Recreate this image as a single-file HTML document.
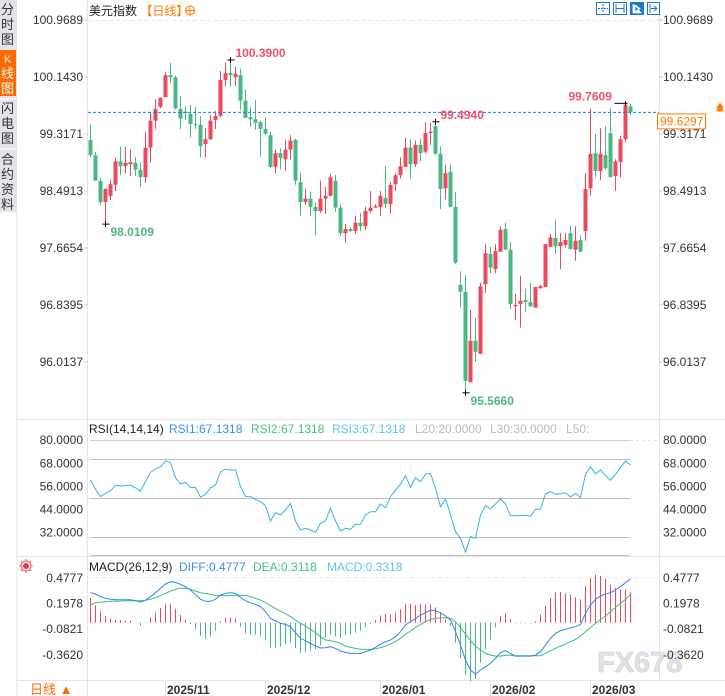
<!DOCTYPE html>
<html><head><meta charset="utf-8">
<style>
html,body{margin:0;padding:0;background:#fff;}
svg{display:block;font-family:"Liberation Sans","Noto Sans CJK SC",sans-serif;}
</style></head>
<body>
<svg id="chart" width="725" height="696" viewBox="0 0 725 696" xmlns="http://www.w3.org/2000/svg">
  <rect x="0" y="0" width="725" height="696" fill="#fff"/>
  <!-- sidebar -->
  <g>
    <rect x="0" y="0" width="17" height="212" fill="#e4e4e8"/>
    <line x1="17" y1="212" x2="17" y2="696" stroke="#e6e6ea"/>
    <g font-size="13" fill="#333">
      <text x="1" y="14">分</text><text x="1" y="29">时</text><text x="1" y="44">图</text>
    </g>
    <g>
      <rect x="0" y="50" width="16" height="46" fill="#ff6a00"/>
      <text x="4" y="63" font-size="11" fill="#fff">K</text>
      <text x="1" y="78" font-size="13" fill="#fff">线</text>
      <text x="1" y="93" font-size="13" fill="#fff">图</text>
    </g>
    <line x1="0" y1="99" x2="17" y2="99" stroke="#fff"/>
    <g font-size="13" fill="#333">
      <text x="1" y="113">闪</text><text x="1" y="128">电</text><text x="1" y="143">图</text>
    </g>
    <line x1="0" y1="149" x2="17" y2="149" stroke="#fff"/>
    <g font-size="13" fill="#333">
      <text x="1" y="164">合</text><text x="1" y="179">约</text><text x="1" y="194">资</text><text x="1" y="209">料</text>
    </g>
  </g>
  <!-- axis borders -->
  <line x1="87.5" y1="0" x2="87.5" y2="696" stroke="#e6e6ea"/>
  <line x1="659.5" y1="0" x2="659.5" y2="680" stroke="#e6e6ea"/>
  <line x1="17" y1="419.5" x2="725" y2="419.5" stroke="#e6e6ea"/>
  <line x1="17" y1="556.5" x2="725" y2="556.5" stroke="#e6e6ea"/>
  <line x1="17" y1="680.5" x2="725" y2="680.5" stroke="#e6e6ea"/>

  <!-- title -->
  <text x="89" y="15" font-size="12" fill="#222">美元指数 <tspan fill="#ff7a00">【日线】</tspan></text>
  <g>
    <circle cx="190" cy="10.5" r="4.5" fill="none" stroke="#ff7a00"/>
    <line x1="185.5" y1="10.5" x2="194.5" y2="10.5" stroke="#ff7a00"/>
    <line x1="190" y1="6" x2="190" y2="15" stroke="#ff7a00"/>
  </g>
  <!-- toolbar icons -->
  <g>
    <g><rect x="596.5" y="2.5" width="13" height="12" fill="#fff" stroke="#1b76d2"/><path d="M603 4v8M598 8.5h10" stroke="#1b76d2" stroke-dasharray="2 1"/></g>
    <g><rect x="613.5" y="2.5" width="13" height="12" fill="#fff" stroke="#1b76d2"/><path d="M616 4v9M624 4v9M616 8.5h8" stroke="#1b76d2"/></g>
    <g><rect x="630.5" y="2.5" width="13" height="12" fill="#1b76d2" stroke="#1b76d2"/><path d="M633 4v9h9M635 5l5 3.5-5 3.5z" fill="#fff" stroke="#fff" stroke-width="0.8"/></g>
    <g><rect x="647.5" y="2.5" width="12" height="12" fill="#fff" stroke="#1b76d2"/><path d="M650 4v9M651 8.5h5M654 6l3 2.5-3 2.5" stroke="#1b76d2" fill="none"/></g>
  </g>

  <g id="main"></g>
  <g id="rsi"></g>
  <g id="macd"></g>

  <!-- headers -->
  <text x="89" y="433" font-size="12"><tspan fill="#222">RSI(14,14,14)</tspan><tspan x="169" fill="#3a8fe8">RSI1:67.1318</tspan><tspan x="251" fill="#46c283">RSI2:67.1318</tspan><tspan x="332" fill="#62c3ef">RSI3:67.1318</tspan><tspan x="415" fill="#bbb">L20:20.0000</tspan><tspan x="490" fill="#bbb">L30:30.0000</tspan><tspan x="566" fill="#bbb">L50:</tspan></text>
  <text x="89" y="571" font-size="12"><tspan fill="#222">MACD(26,12,9)</tspan><tspan x="179" fill="#3a8fe8">DIFF:0.4777</tspan><tspan x="253" fill="#46c283">DEA:0.3118</tspan><tspan x="327" fill="#62c3ef">MACD:0.3318</tspan></text>
  <g>
    <circle cx="26" cy="566" r="3" fill="#e33"/>
    <circle cx="26" cy="566" r="5" fill="none" stroke="#e33" stroke-width="0.8"/>
    <path d="M19 566h2M31 566h2M26 559v2M26 571v2M21 561l1.5 1.5M31 561l-1.5 1.5M21 571l1.5-1.5M31 571l-1.5-1.5" stroke="#e33" stroke-width="0.8"/>
  </g>

  <!-- bottom period -->
  <g>
    <text x="30" y="694" font-size="13" fill="#ff6a00">日线 ▲</text>
  </g>
  <g id="xaxis"></g>

  <text x="597" y="672" font-size="29" fill="#dfe2ea" stroke="#c9ccd6" stroke-width="0.6" font-weight="bold">FX678</text>
</svg>
<script>
// ===== data =====
const opens = [99.23,99.01,98.64,98.33,98.42,98.58,98.92,98.85,98.88,98.90,98.80,98.69,99.12,99.51,99.71,99.85,100.17,100.14,99.68,99.64,99.61,99.46,99.45,99.17,99.24,99.52,99.58,100.10,100.20,100.14,100.17,99.80,99.56,99.53,99.49,99.39,99.30,98.84,99.04,98.95,99.09,99.23,98.62,98.33,98.38,98.26,98.20,98.38,98.42,98.64,98.25,97.88,97.94,97.91,98.03,97.98,98.20,98.25,98.26,98.39,98.30,98.59,98.72,98.84,99.12,98.88,99.16,99.06,99.33,99.43,99.03,98.53,98.77,98.26,97.13,97.03,95.72,96.32,96.13,97.14,97.58,97.36,97.61,97.94,97.64,96.82,96.85,96.91,96.88,96.80,97.08,97.10,97.68,97.81,97.69,97.71,97.88,97.64,97.78,97.91,98.53,99.04,98.78,99.01,99.33,98.71,98.91,99.24,99.72];
const highs = [99.46,99.06,98.68,98.53,98.65,98.98,99.13,99.13,99.09,98.98,98.91,99.35,99.64,99.82,99.85,100.22,100.35,100.16,99.87,99.72,99.74,99.71,99.58,99.40,99.59,99.65,100.23,100.35,100.39,100.29,100.26,99.96,99.71,99.81,99.51,99.56,99.35,99.09,99.11,99.23,99.30,99.25,98.75,98.52,98.48,98.32,98.64,98.55,98.74,98.72,98.30,98.01,97.97,98.13,98.17,98.26,98.49,98.30,98.49,98.85,98.62,98.75,98.98,99.26,99.25,99.22,99.25,99.49,99.48,99.494,99.14,98.87,98.88,98.48,97.33,97.27,96.77,96.65,97.16,97.72,97.68,97.72,97.98,98.03,97.75,97.00,97.26,97.07,97.16,97.10,97.13,97.72,97.87,98.07,97.88,97.88,97.99,97.98,97.84,98.75,99.68,99.32,99.40,99.43,99.69,98.95,99.29,99.7609,99.75];
const lows = [98.98,98.64,98.29,98.0109,98.36,98.49,98.72,98.75,98.71,98.71,98.55,98.61,98.90,99.39,99.69,99.85,100.06,99.67,99.39,99.52,99.27,99.39,98.98,98.98,99.23,99.39,99.56,100.01,100.00,100.01,99.67,99.55,99.42,99.38,98.99,99.30,98.82,98.75,98.80,98.78,98.95,98.58,98.13,98.29,98.13,97.85,98.17,98.16,98.41,98.19,97.84,97.74,97.90,97.87,97.91,97.93,98.17,98.25,98.13,98.25,98.16,98.49,98.67,98.84,98.67,98.84,98.92,99.04,99.16,99.01,98.23,98.37,98.26,97.43,96.80,95.566,95.72,96.01,96.13,97.01,97.30,97.30,97.61,97.64,96.78,96.62,96.51,96.74,96.81,96.80,97.08,97.10,97.68,97.58,97.36,97.67,97.64,97.48,97.61,97.77,98.43,98.69,98.65,98.80,98.69,98.49,98.69,99.20,99.59];
const closes = [99.01,98.64,98.33,98.52,98.59,98.92,98.85,98.90,98.91,98.80,98.69,99.12,99.51,99.68,99.84,100.17,100.14,99.69,99.54,99.62,99.46,99.45,99.14,99.24,99.51,99.58,100.10,100.20,100.17,100.19,99.80,99.55,99.53,99.48,99.39,99.32,98.84,99.04,98.97,99.09,99.22,98.64,98.33,98.38,98.26,98.20,98.38,98.42,98.69,98.25,97.88,97.94,97.91,98.03,97.98,98.20,98.25,98.27,98.42,98.30,98.58,98.72,98.85,99.12,98.88,99.16,99.04,99.33,99.35,99.03,98.52,98.75,98.26,97.45,97.03,95.74,96.32,96.16,97.11,97.59,97.38,97.62,97.93,97.64,96.85,96.84,96.90,96.88,96.82,97.10,97.11,97.72,97.82,97.69,97.75,97.78,97.65,97.77,97.61,98.52,99.03,98.78,99.03,98.82,98.69,98.92,99.24,99.74,99.6297];
const rsiValues = [59.3,54.5,50.7,52.4,53.6,56.7,56.2,56.4,56.6,55.3,53.6,58.5,63.3,65.0,66.2,69.3,68.3,60.5,57.3,58.1,55.5,55.5,50.4,51.9,55.3,56.7,63.6,65.0,64.5,64.5,55.9,50.7,50.7,49.3,48.1,46.0,38.1,42.4,41.2,43.8,47.2,38.1,33.4,34.3,33.4,32.2,36.9,38.1,44.7,38.1,32.9,34.3,33.8,36.5,36.3,41.2,42.9,42.9,46.9,45.0,50.7,54.1,57.1,61.6,55.5,60.5,58.5,62.3,62.8,55.0,45.5,49.5,41.2,32.5,29.1,21.9,30.0,29.1,41.2,46.0,44.3,46.9,49.5,46.9,40.8,40.8,41.0,41.0,40.6,44.1,44.3,52.1,53.3,51.9,52.2,52.8,50.5,52.4,50.2,62.3,66.2,62.5,64.5,61.6,59.3,62.3,65.7,69.2,67.13];
const diffValues = [0.327,0.313,0.284,0.265,0.255,0.251,0.251,0.251,0.251,0.240,0.225,0.247,0.284,0.327,0.375,0.422,0.447,0.440,0.418,0.393,0.356,0.309,0.255,0.233,0.233,0.255,0.302,0.320,0.327,0.320,0.276,0.240,0.218,0.200,0.175,0.120,0.047,0.018,-0.007,-0.018,-0.044,-0.109,-0.171,-0.196,-0.225,-0.255,-0.276,-0.273,-0.262,-0.280,-0.309,-0.324,-0.335,-0.335,-0.335,-0.316,-0.298,-0.269,-0.233,-0.207,-0.189,-0.153,-0.098,-0.025,0.011,0.044,0.084,0.109,0.138,0.131,0.109,0.073,0.029,-0.098,-0.244,-0.407,-0.516,-0.560,-0.516,-0.480,-0.444,-0.389,-0.327,-0.305,-0.335,-0.364,-0.364,-0.364,-0.364,-0.353,-0.316,-0.244,-0.171,-0.116,-0.087,-0.073,-0.055,-0.044,-0.018,0.102,0.193,0.255,0.291,0.313,0.327,0.356,0.393,0.436,0.4777];
const deaValues = [0.193,0.218,0.222,0.229,0.233,0.236,0.236,0.240,0.240,0.240,0.240,0.244,0.255,0.273,0.295,0.320,0.345,0.364,0.375,0.375,0.364,0.345,0.327,0.320,0.309,0.298,0.295,0.295,0.298,0.298,0.298,0.298,0.284,0.265,0.247,0.218,0.185,0.156,0.124,0.098,0.065,0.029,-0.007,-0.036,-0.073,-0.109,-0.153,-0.189,-0.196,-0.207,-0.225,-0.255,-0.269,-0.280,-0.291,-0.291,-0.291,-0.284,-0.273,-0.255,-0.233,-0.207,-0.171,-0.127,-0.091,-0.051,-0.018,0.011,0.036,0.047,0.055,0.055,0.047,0.011,-0.051,-0.124,-0.196,-0.255,-0.298,-0.335,-0.353,-0.364,-0.364,-0.356,-0.356,-0.360,-0.360,-0.360,-0.360,-0.360,-0.360,-0.335,-0.305,-0.280,-0.255,-0.233,-0.207,-0.182,-0.145,-0.098,-0.051,-0.007,0.036,0.073,0.120,0.167,0.211,0.255,0.3118];
const priceTicks = [100.9689,100.1430,99.3171,98.4913,97.6654,96.8395,96.0137];
const rsiTicks = [80,68,56,44,32];
const rsiGridLevels = [80,70,50,30];
const macdTicks = [0.4777,0.1978,-0.0821,-0.3620];
const dateLabels = ["2025/11","2025/12","2026/01","2026/02","2026/03"];
const dateIndex = [15,35,58,80,100];
const lastPrice = 99.6297;
const annotations = [
  {i:28, v:100.39, text:"100.3900", color:"#f0506e", kind:"high"},
  {i:3, v:98.0109, text:"98.0109", color:"#4cb883", kind:"low"},
  {i:69, v:99.494, text:"99.4940", color:"#f0506e", kind:"high"},
  {i:75, v:95.566, text:"95.5660", color:"#4cb883", kind:"low"},
  {i:107, v:99.7609, text:"99.7609", color:"#f0506e", kind:"highleft"}
];

// ===== scales =====
const UP = "#eb4a5d", DOWN = "#4bb883";
const NS = "http://www.w3.org/2000/svg";
function xOf(i){ return 90 + 5*i; }
function yPrice(p){ return 20 + (100.9689 - p) * 69.0; }
function yRsi(v){ return 498 - (v - 50) * 1.93; }
function yMacd(v){ return 622.7 - v * 91.7; }
function mk(tag, attrs, parent){
  const el = document.createElementNS(NS, tag);
  for (const k in attrs) el.setAttribute(k, attrs[k]);
  parent.appendChild(el);
  return el;
}
const main = document.getElementById('main');
const rsiG = document.getElementById('rsi');
const macdG = document.getElementById('macd');
const xG = document.getElementById('xaxis');
const root = document.getElementById('chart');

// price axis labels + top dashed grid
mk('line',{x1:88,y1:20.5,x2:659,y2:20.5,stroke:'#e6e6e6','stroke-dasharray':'4 3'},main);
priceTicks.forEach(p=>{
  const y = yPrice(p);
  const l = mk('text',{x:83,y:y+4,'font-size':12,fill:'#333','text-anchor':'end'},root);
  l.textContent = p.toFixed(4);
  
  
  const r = mk('text',{x:663,y:y+4,'font-size':12,fill:'#333'},root);
  r.textContent = p.toFixed(4);
  
  
  mk('line',{x1:84,y1:y,x2:88,y2:y,stroke:'#ccc'},root);
  mk('line',{x1:659,y1:y,x2:663,y2:y,stroke:'#ccc'},root);
});

// candles
for (let i=0;i<opens.length;i++){
  const o=opens[i], c=closes[i], h=highs[i], l=lows[i];
  const col = c>=o ? UP : DOWN;
  const x = xOf(i);
  const g = mk('g',{},main);
  
  
  mk('line',{x1:x+0.5,y1:yPrice(h),x2:x+0.5,y2:yPrice(l),stroke:col,'stroke-width':1},g);
  const yt = yPrice(Math.max(o,c)), yb = yPrice(Math.min(o,c));
  mk('rect',{x:x-1.5,y:yt,width:4,height:Math.max(1,yb-yt),fill:col},g);
}

// last price line
const yl = yPrice(lastPrice);
const lp = mk('line',{x1:88,y1:yl,x2:659,y2:yl,stroke:'#1a7fe0','stroke-dasharray':'3 2'},main);


const lb = mk('rect',{x:657.5,y:yl+1.5,width:48,height:15,fill:'#fff',stroke:'#ff7a00'},root);


const lt = mk('text',{x:660,y:yl+13,'font-size':12,fill:'#ff7a00'},root);
lt.textContent = lastPrice.toFixed(4);


const ar = mk('path',{d:`M716 ${yl-1}l4-6 4 6z M716 ${yl-4}l4-6 4 6z`,fill:'#ff7a00'},root);



// annotations
annotations.forEach(a=>{
  const x = xOf(a.i)+0.5, y = yPrice(a.v);
  const g = mk('g',{},main);
  
  
  if (a.kind==='highleft'){
    mk('line',{x1:x-11,y1:y,x2:x+2,y2:y,stroke:'#000'},g);
    mk('line',{x1:x,y1:y-2,x2:x,y2:y+2,stroke:'#000'},g);
  } else {
    mk('line',{x1:x-3,y1:y,x2:x+4,y2:y,stroke:'#000'},g);
    mk('line',{x1:x,y1:y-3,x2:x,y2:y+3,stroke:'#000'},g);
  }
  let tx, ty;
  if (a.kind==='high'){ tx = x+5; ty = y-3; }
  else if (a.kind==='low'){ tx = x+5; ty = y+12; }
  else { tx = x-57; ty = y-3; }
  const t = mk('text',{x:tx,y:ty,'font-size':12,'font-weight':'bold',fill:a.color},g);
  t.textContent = a.text;
});

// RSI panel
rsiGridLevels.forEach((v,k)=>{
  const y = Math.round(yRsi(v))+0.5;
  mk('line',{x1:90,y1:y,x2:630,y2:y,stroke:k===0?'#d0d0d0':'#bdbdbd'},rsiG);
});
mk('line',{x1:630,y1:Math.round(yRsi(80))+0.5,x2:659,y2:Math.round(yRsi(80))+0.5,stroke:'#e6e6e6','stroke-dasharray':'3 3'},rsiG);
mk('line',{x1:90,y1:555.5,x2:630,y2:555.5,stroke:'#bdbdbd'},rsiG);
rsiTicks.forEach(v=>{
  const y = yRsi(v);
  const a = mk('text',{x:83,y:y+4,'font-size':12,fill:'#333','text-anchor':'end'},root);
  a.textContent = v.toFixed(4);
  
  
  const b = mk('text',{x:663,y:y+4,'font-size':12,fill:'#333'},root);
  b.textContent = v.toFixed(4);
  
  
});
const rsiLine = mk('polyline',{points:rsiValues.map((v,i)=>`${xOf(i)+0.5},${yRsi(v).toFixed(1)}`).join(' '),fill:'none',stroke:'#3ab2ea','stroke-width':1},rsiG);



// MACD panel
mk('line',{x1:88,y1:577.5,x2:659,y2:577.5,stroke:'#ececec','stroke-dasharray':'4 3'},macdG);
macdTicks.forEach(v=>{
  const y = yMacd(v);
  const a = mk('text',{x:83,y:y+3,'font-size':12,fill:'#333','text-anchor':'end'},root);
  a.textContent = v.toFixed(4);
  
  
  const b = mk('text',{x:663,y:y+3,'font-size':12,fill:'#333'},root);
  b.textContent = v.toFixed(4);
  
  
});
for (let i=0;i<diffValues.length;i++){
  const h = 2*(diffValues[i]-deaValues[i]);
  const x = xOf(i)+0.5;
  const bar = mk('line',{x1:x,y1:yMacd(0),x2:x,y2:yMacd(h),stroke:h>=0?UP:DOWN,'stroke-width':1},macdG);
  
  
}
const deaLine = mk('polyline',{points:deaValues.map((v,i)=>`${xOf(i)+0.5},${yMacd(v).toFixed(1)}`).join(' '),fill:'none',stroke:'#3cbf7a','stroke-width':1},macdG);


const diffLine = mk('polyline',{points:diffValues.map((v,i)=>`${xOf(i)+0.5},${yMacd(v).toFixed(1)}`).join(' '),fill:'none',stroke:'#2f86e8','stroke-width':1},macdG);



// time axis
dateLabels.forEach((d,k)=>{
  const x = xOf(dateIndex[k]);
  mk('line',{x1:x+0.5,y1:681,x2:x+0.5,y2:696,stroke:'#e0e0e0'},xG);
  const t = mk('text',{x:x+2,y:694,'font-size':12,'font-weight':'bold',fill:'#333'},xG);
  t.textContent = d;
  
  
});
</script>
</body></html>
